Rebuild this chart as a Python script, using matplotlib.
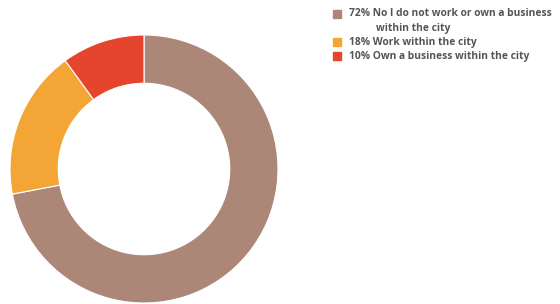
import matplotlib.pyplot as plt
from matplotlib.patches import Rectangle

labels = ['No I do not work or own a business\nwithin the city',
          'Work within the city',
          'Own a business within the city']
shares = [72, 18, 10]
colors = ['#ac8676', '#f3a535', '#e5452d']

fig = plt.figure(figsize=(5.6, 3.04), dpi=100)
ax = fig.add_axes([10 / 560, 1 / 304, 268 / 560, 268 / 304])
ax.pie(shares, colors=colors, startangle=90, counterclock=False, radius=1,
       wedgeprops=dict(width=0.36, edgecolor='white', linewidth=0.8))
ax.set_xlim(-1, 1)
ax.set_ylim(-1, 1)
ax.set_aspect('equal')

# legend drawn by hand
row_y = [14, 42, 56]
for lab, pct, col, y in zip(labels, shares, colors, row_y):
    fig.patches.append(Rectangle((333 / 560, 1 - (y + 4) / 304), 8 / 560, 8 / 304,
                                 transform=fig.transFigure, color=col))
    first, *rest = lab.split('\n')
    fig.text(349 / 560, 1 - y / 304, f'{pct}% {first}', fontsize=7.4,
             family='Open Sans', fontweight='bold',
             color='#555555', va='center')
    for i, line in enumerate(rest):
        fig.text(376 / 560, 1 - (y + 15 * (i + 1)) / 304, line, fontsize=7.4,
                 family='Open Sans', fontweight='bold',
                 color='#555555', va='center')

fig.savefig('out.png', dpi=100)
